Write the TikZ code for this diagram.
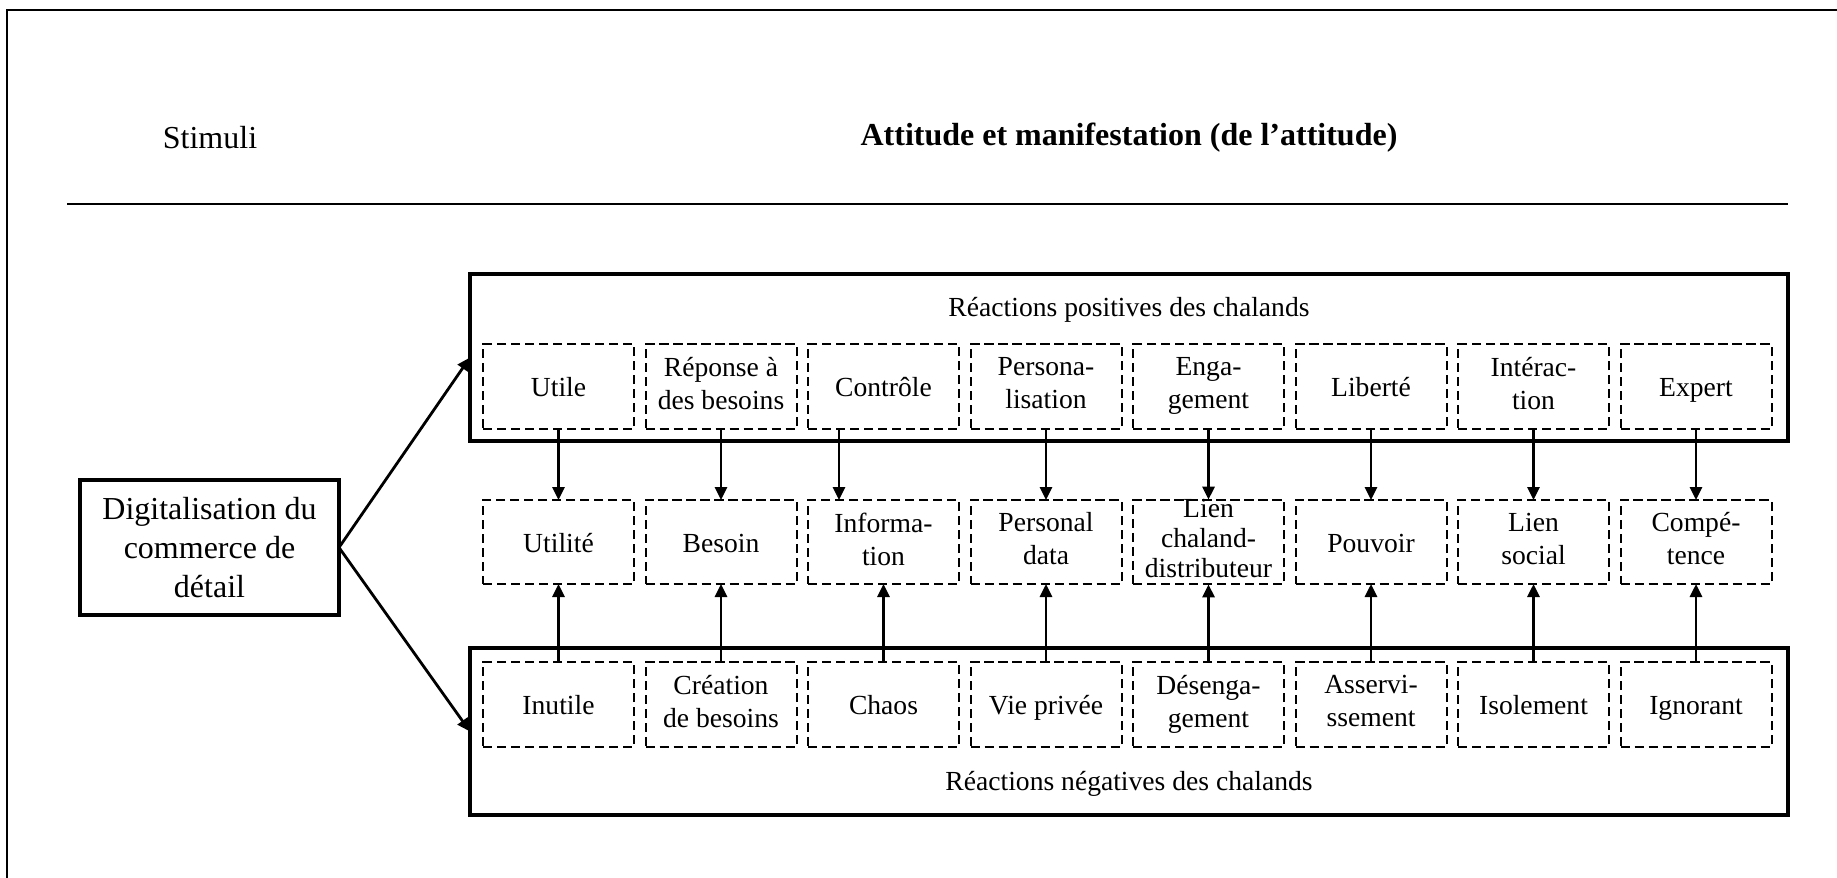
\documentclass[tikz,border=0pt]{standalone}
\usepackage{fontspec}
\setmainfont{Liberation Serif}
\usetikzlibrary{arrows.meta}
\newcommand\bstrut{\rule{0pt}{13.3pt}}
\newcommand\estrut{\rule[-3.2pt]{0pt}{3.2pt}}
\begin{document}
\begin{tikzpicture}[x=0.5pt,y=-0.5pt,
  bigbox/.style={draw, line width=1.6pt, inner sep=0pt, outer sep=0pt},
  dbox/.style={draw, line width=1pt, dash pattern=on 4.6pt off 2.4pt,
    minimum width=75.5pt, minimum height=42.5pt, inner sep=0pt, outer sep=0pt,
    align=center, font=\fontsize{13.8}{16.5}\selectfont,
    execute at begin node=\bstrut, execute at end node=\estrut},
  lbl/.style={font=\fontsize{13.8}{16.5}\selectfont, inner sep=0pt},
  head/.style={font=\fontsize{16}{19.5}\selectfont, inner sep=0pt},
  arr/.style={line width=1.4pt, -{Triangle[length=6.5pt,width=6pt]}},
  line join=miter]
\useasboundingbox (0,0) rectangle (1837,878);

% partial outer frame
\draw[line width=1pt] (1837,10) -- (7,10) -- (7,878);

% headings
\node[head] (stim) at (210,138) {Stimuli};
\node[head, font=\fontsize{16}{19.5}\selectfont\bfseries] (att) at (1129,138) {Attitude et manifestation (de l’attitude)};
\draw[line width=1.3pt] (67,204) -- (1788,204);

% big boxes
\node[bigbox, minimum width=659pt, minimum height=83.5pt] (pos) at (1129,357.5) {};
\node[bigbox, minimum width=659pt, minimum height=83.5pt] (neg) at (1129,731.5) {};
\node[lbl] (poslbl) at (1129,310) {Réactions positives des chalands};
\node[lbl] (neglbl) at (1129,784) {Réactions négatives des chalands};

% stimulus box
\node[bigbox, minimum width=129.5pt, minimum height=67.5pt, align=center,
  font=\fontsize{16}{19.5}\selectfont] (dig) at (209.5,547.5)
  {Digitalisation du\\commerce de\\détail};

% top row
\foreach \i/\t in {1/{Utile},2/{Réponse à\\des besoins},3/{Contrôle},4/{Persona-\\lisation},
  5/{Enga-\\gement},6/{Liberté},7/{Intérac-\\tion},8/{Expert}}
  \node[dbox] (t\i) at ({558.5+(\i-1)*162.5},386.5) {\t};

% middle row
\foreach \i/\t in {1/{Utilité},2/{Besoin},3/{Informa-\\tion},4/{Personal\\data},
  6/{Pouvoir},7/{Lien\\social},8/{Compé-\\tence}}
  \node[dbox, minimum height=42pt] (m\i) at ({558.5+(\i-1)*162.5},542) {\t};
\node[dbox, minimum height=42pt, font=\fontsize{13.8}{15}\selectfont,
  execute at begin node={\rule{0pt}{12pt}}, execute at end node={}] (m5) at (1208.5,542) {Lien\\chaland-\\distributeur};

% bottom row
\foreach \i/\t in {1/{Inutile},2/{Création\\de besoins},3/{Chaos},4/{Vie privée},
  5/{Désenga-\\gement},6/{Asservi-\\ssement},7/{Isolement},8/{Ignorant}}
  \node[dbox] (b\i) at ({558.5+(\i-1)*162.5},704.5) {\t};

% stimulus arrows
\draw[arr] (dig.east) -- (pos.west);
\draw[arr] (dig.east) -- (neg.west);

% vertical arrows
\coordinate (ctl) at (839,0);
\foreach \i in {1,2,4,5,6,7,8}
  \draw[arr] (t\i.south) -- (m\i.north);
\draw[arr] (t3.south -| ctl) -- (m3.north -| ctl);
\foreach \i in {1,...,8}
  \draw[arr] (b\i.north) -- (m\i.south);
\end{tikzpicture}
\end{document}
